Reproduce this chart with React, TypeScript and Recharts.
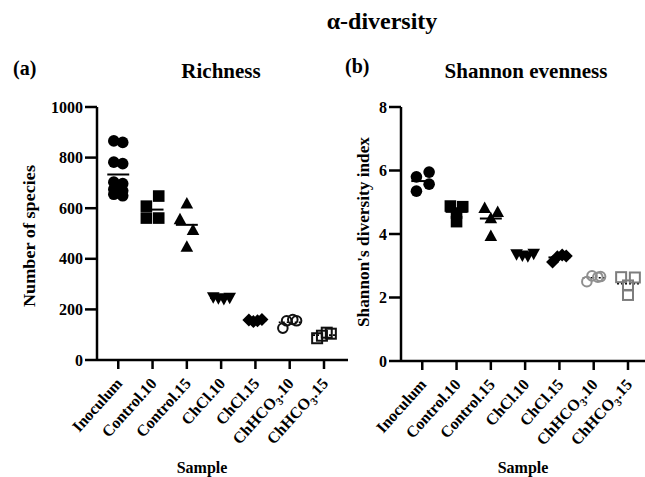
import { ReferenceLine, Scatter, ScatterChart, XAxis, YAxis } from "recharts";

const SERIF = '"Liberation Serif", "Times New Roman", serif';

const categories = ["Inoculum", "Control.10", "Control.15", "ChCl.10", "ChCl.15", "ChHCO3.10", "ChHCO3.15"];
const categoryIndex = [0, 1, 2, 3, 4, 5, 6];

// (a) richness, number of species
const richInoculum = [866, 860, 782, 776, 703, 697, 675, 669, 655, 649];
const richControl10 = [648, 608, 561, 561];
const richControl15 = [619, 556, 514, 448];
const richChCl10 = [248, 244, 241, 246];
const richChCl15 = [158, 152, 155, 160];
const richChHCO310 = [126, 155, 160, 155];
const richChHCO315 = [86, 96, 108, 104];
const richTicks = [0, 200, 400, 600, 800, 1000];

// (b) Shannon's diversity index
const shanInoculum = [5.8, 5.95, 5.57, 5.35];
const shanControl10 = [4.88, 4.86, 4.66, 4.39];
const shanControl15 = [4.82, 4.69, 4.5, 3.94];
const shanChCl10 = [3.36, 3.32, 3.3, 3.38];
const shanChCl15 = [3.12, 3.28, 3.34, 3.31];
const shanChHCO310 = [2.5, 2.68, 2.64, 2.66];
const shanChHCO315 = [2.64, 2.63, 2.38, 2.08];
const shanTicks = [0, 2, 4, 6, 8];

// horizontal scatter layout (category units), like GraphPad's column spread
const spreadA = [
  [-0.13, 0.13],
  [0.18, -0.18, -0.18, 0.18],
  [0, -0.2, 0.18, 0],
  [-0.23, -0.08, 0.08, 0.25],
  [-0.19, -0.06, 0.06, 0.19],
  [-0.2, -0.09, 0.09, 0.2],
  [-0.2, -0.06, 0.08, 0.2],
];
const spreadB = [
  [-0.17, 0.2, 0.2, -0.17],
  [-0.18, 0.18, 0, 0],
  [-0.18, 0.2, 0, 0],
  [-0.25, -0.08, 0.08, 0.25],
  [-0.2, -0.06, 0.08, 0.2],
  [-0.2, -0.05, 0.12, 0.2],
  [-0.2, 0.2, 0, 0],
];

type Kind = "circle" | "square" | "triangle" | "triangleDown" | "diamond" | "openCircle" | "openSquare";

const marker = (kind: Kind, color: string) => (props: any) => {
  const { cx, cy } = props;
  if (cx == null || cy == null) return <g />;
  switch (kind) {
    case "circle":
      return <circle cx={cx} cy={cy} r={5.8} fill={color} />;
    case "square":
      return <rect x={cx - 5.8} y={cy - 5.8} width={11.6} height={11.6} fill={color} />;
    case "triangle":
      return <polygon points={`${cx},${cy - 6.5} ${cx + 6.3},${cy + 5} ${cx - 6.3},${cy + 5}`} fill={color} />;
    case "triangleDown":
      return <polygon points={`${cx - 6.3},${cy - 5} ${cx + 6.3},${cy - 5} ${cx},${cy + 6.5}`} fill={color} />;
    case "diamond":
      return <polygon points={`${cx},${cy - 6.5} ${cx + 6.5},${cy} ${cx},${cy + 6.5} ${cx - 6.5},${cy}`} fill={color} />;
    case "openCircle":
      return <circle cx={cx} cy={cy} r={4.8} fill="none" stroke={color} strokeWidth={2} />;
    default:
      return <rect x={cx - 5} y={cy - 5} width={10} height={10} fill="none" stroke={color} strokeWidth={2} />;
  }
};

type Group = { values: number[]; kind: Kind; color: string; dotted?: boolean };

const groupsA: Group[] = [
  { values: richInoculum, kind: "circle", color: "#000" },
  { values: richControl10, kind: "square", color: "#000" },
  { values: richControl15, kind: "triangle", color: "#000" },
  { values: richChCl10, kind: "triangleDown", color: "#000" },
  { values: richChCl15, kind: "diamond", color: "#000" },
  { values: richChHCO310, kind: "openCircle", color: "#111", dotted: true },
  { values: richChHCO315, kind: "openSquare", color: "#111", dotted: true },
];
const groupsB: Group[] = [
  { values: shanInoculum, kind: "circle", color: "#000" },
  { values: shanControl10, kind: "square", color: "#000" },
  { values: shanControl15, kind: "triangle", color: "#000" },
  { values: shanChCl10, kind: "triangleDown", color: "#000" },
  { values: shanChCl15, kind: "diamond", color: "#000" },
  { values: shanChHCO310, kind: "openCircle", color: "#8f8f8f", dotted: true },
  { values: shanChHCO315, kind: "openSquare", color: "#7d7d7d", dotted: true },
];

const mean = (v: number[]) => v.reduce((a, b) => a + b, 0) / v.length;

function SampleTick(props: any) {
  const { x, y, payload } = props;
  const name = categories[payload.value] ?? "";
  const ax = x + 5;
  const ay = y + 13;
  const m = name.match(/^ChHCO3(\..*)$/);
  return (
    <text
      x={ax}
      y={ay}
      transform={`rotate(-48, ${ax}, ${ay})`}
      textAnchor="end"
      fill="#000"
      fontFamily={SERIF}
      fontWeight={700}
      fontSize={16}
    >
      {m ? (
        <>
          ChHCO
          <tspan fontSize={11} dy={4}>3</tspan>
          <tspan dy={-4}>{m[1]}</tspan>
        </>
      ) : (
        name
      )}
    </text>
  );
}

const axisStroke = { stroke: "#000", strokeWidth: 2.5 };
const tickFont = { fill: "#000", fontSize: 16, fontWeight: 700, fontFamily: SERIF };

function Panel({
  groups,
  spread,
  ticks,
  max,
  width,
  margin,
}: {
  groups: Group[];
  spread: number[][];
  ticks: number[];
  max: number;
  width: number;
  margin: { top: number; right: number; bottom: number; left: number };
}) {
  return (
    <ScatterChart width={width} height={477} margin={margin}>
      <XAxis
        type="number"
        dataKey="x"
        domain={[-0.62, 6.7]}
        ticks={categoryIndex}
        interval={0}
        tick={<SampleTick />}
        tickSize={9}
        tickMargin={2}
        tickLine={axisStroke}
        axisLine={axisStroke}
        height={110}
      />
      <YAxis
        type="number"
        dataKey="y"
        domain={[0, max]}
        ticks={ticks}
        interval={0}
        tick={tickFont}
        tickSize={12}
        tickMargin={2}
        tickLine={axisStroke}
        axisLine={axisStroke}
        width={60}
      />
      {groups.map((g, i) => (
        <Scatter
          key={categories[i]}
          data={g.values.map((v, j) => ({ x: i + spread[i][j % spread[i].length], y: v }))}
          shape={marker(g.kind, g.color)}
          isAnimationActive={false}
        />
      ))}
      {groups.map((g, i) => (
        <ReferenceLine
          key={"m" + i}
          segment={[
            { x: i - 0.32, y: mean(g.values) },
            { x: i + 0.32, y: mean(g.values) },
          ]}
          stroke="#000"
          strokeWidth={g.dotted ? 1.6 : 2}
          strokeDasharray={g.dotted ? "2 2" : undefined}
        />
      ))}
    </ScatterChart>
  );
}

const titleFont = { fontFamily: SERIF, fontWeight: 700, fill: "#000" } as const;

export default function App() {
  return (
    <div style={{ position: "absolute", left: 0, top: 0, width: 645, height: 477, overflow: "hidden", background: "#fff" }}>
      <div style={{ position: "absolute", left: 0, top: 0 }}>
        <Panel
          groups={groupsA}
          spread={spreadA}
          ticks={richTicks}
          max={1000}
          width={350}
          margin={{ top: 107, right: 2, bottom: 7, left: 37 }}
        />
      </div>
      <div style={{ position: "absolute", left: 330, top: 0 }}>
        <Panel
          groups={groupsB}
          spread={spreadB}
          ticks={shanTicks}
          max={8}
          width={330}
          margin={{ top: 107, right: 8, bottom: 6, left: 11 }}
        />
      </div>
      <svg width={645} height={477} style={{ position: "absolute", left: 0, top: 0, pointerEvents: "none" }}>
        <text x={382} y={29} textAnchor="middle" fontSize={24} {...titleFont}>α-diversity</text>
        <text x={13} y={75} fontSize={20} {...titleFont}>(a)</text>
        <text x={221} y={78} textAnchor="middle" fontSize={21} {...titleFont}>Richness</text>
        <text x={345} y={73} fontSize={20} {...titleFont}>(b)</text>
        <text x={526} y={78} textAnchor="middle" fontSize={21} {...titleFont}>Shannon evenness</text>
        <text
          x={29}
          y={236}
          transform="rotate(-90, 29, 236)"
          textAnchor="middle"
          dominantBaseline="central"
          fontSize={16}
          textLength={142}
          lengthAdjust="spacingAndGlyphs"
          {...titleFont}
        >
          Number of species
        </text>
        <text
          x={363}
          y={232}
          transform="rotate(-90, 363, 232)"
          textAnchor="middle"
          dominantBaseline="central"
          fontSize={16}
          textLength={190}
          lengthAdjust="spacingAndGlyphs"
          {...titleFont}
        >
          Shannon's diversity index
        </text>
        <text x={202} y={473} textAnchor="middle" fontSize={16} {...titleFont}>Sample</text>
        <text x={523} y={473} textAnchor="middle" fontSize={16} {...titleFont}>Sample</text>
      </svg>
    </div>
  );
}
